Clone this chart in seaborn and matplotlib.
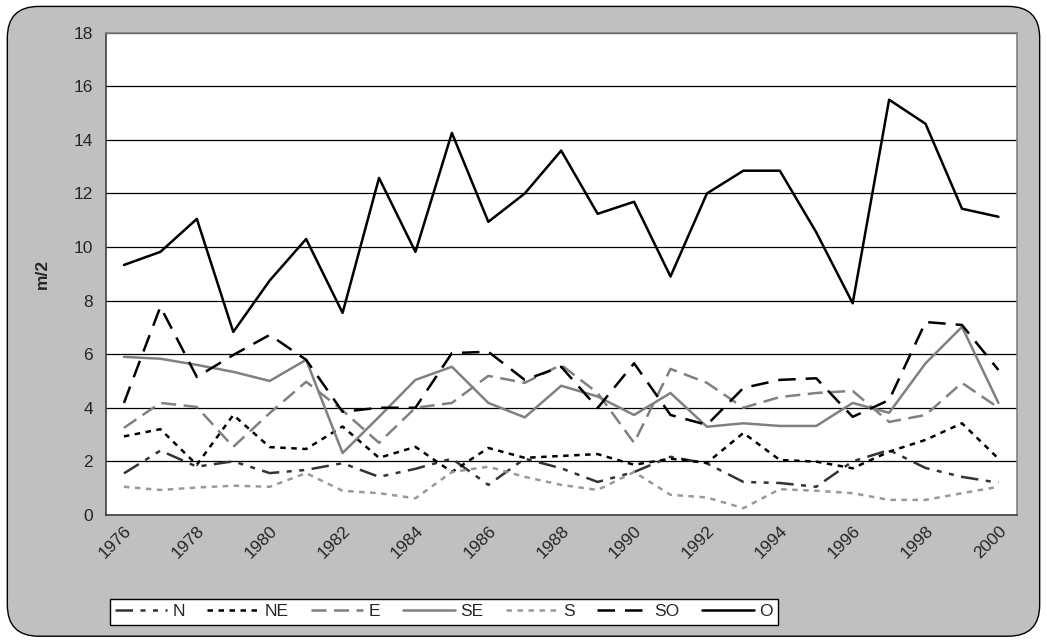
import numpy as np
import pandas as pd
import seaborn as sns
import matplotlib.pyplot as plt
from matplotlib.patches import FancyBboxPatch

# datos (m/2 por año y orientación)
anios = list(range(1976, 2001))
N = [1.55, 2.4, 1.8, 2.0, 1.56, 1.68, 1.93, 1.42, 1.72, 2.1, 1.12, 2.1, 1.74, 1.23, 1.6, 2.17,
     1.92, 1.23, 1.19, 1.05, 2.0, 2.42, 1.75, 1.42, 1.2]
NE = [2.93, 3.2, 1.87, 3.73, 2.53, 2.46, 3.3, 2.13, 2.54, 1.6, 2.5, 2.13, 2.2, 2.27, 1.87, 2.1,
      1.94, 3.06, 2.05, 1.99, 1.74, 2.36, 2.8, 3.42, 2.1]
E = [3.25, 4.18, 4.03, 2.54, 3.8, 4.97, 3.9, 2.69, 4.0, 4.18, 5.19, 4.93, 5.6, 4.55, 2.69, 5.45,
     4.93, 4.0, 4.4, 4.55, 4.63, 3.47, 3.73, 4.93, 4.0]
SE = [5.9, 5.83, 5.6, 5.34, 5.0, 5.79, 2.31, 3.66, 5.04, 5.53, 4.18, 3.64, 4.82, 4.42, 3.73, 4.55,
      3.29, 3.42, 3.32, 3.32, 4.18, 3.81, 5.66, 7.02, 4.18]
S = [1.05, 0.93, 1.02, 1.09, 1.05, 1.56, 0.9, 0.81, 0.62, 1.6, 1.8, 1.42, 1.12, 0.93, 1.6, 0.75,
     0.65, 0.25, 0.96, 0.9, 0.81, 0.56, 0.56, 0.81, 1.05]
SO = [4.18, 7.77, 5.15, 5.97, 6.72, 5.79, 3.85, 4.0, 4.0, 6.04, 6.09, 5.04, 5.53, 3.99, 5.66, 3.73,
      3.36, 4.74, 5.04, 5.1, 3.66, 4.29, 7.2, 7.09, 5.41]
O = [9.33, 9.82, 11.05, 6.83, 8.75, 10.3, 7.54, 12.58, 9.82, 14.26, 10.94, 12.0, 13.6, 11.24, 11.69, 8.9,
     12.0, 12.85, 12.85, 10.55, 7.9, 15.5, 14.6, 11.43, 11.13]

series = {'N': N, 'NE': NE, 'E': E, 'SE': SE, 'S': S, 'SO': SO, 'O': O}

# estilos de cada línea
estilos = {
    'N':  ('#333333', (0, (7, 3, 2, 3, 2, 3))),
    'NE': ('#000000', (0, (2.2, 2.2))),
    'E':  ('#808080', (0, (6, 3))),
    'SE': ('#808080', '-'),
    'S':  ('#999999', (0, (2.2, 2.2))),
    'SO': ('#000000', (0, (7, 4))),
    'O':  ('#000000', '-'),
}

df = pd.DataFrame(series)
df['pos'] = np.arange(len(anios))

sns.set_style('white')
plt.rcParams['font.family'] = ['Liberation Sans', 'DejaVu Sans']

fig = plt.figure(figsize=(10.47, 6.42), dpi=100)
fig.patch.set_facecolor('white')
fondo = FancyBboxPatch((0.007, 0.009), 0.986, 0.981, boxstyle='round,pad=0,rounding_size=0.03',
                       transform=fig.transFigure, facecolor='#C0C0C0', edgecolor='#000000',
                       linewidth=1.0, mutation_aspect=1047 / 642, zorder=-10)
fig.patches.append(fondo)

ax = fig.add_axes([0.101, 0.198, 0.870, 0.751])
ax.set_facecolor('white')

for nombre in series:
    color, ls = estilos[nombre]
    sns.lineplot(data=df, x='pos', y=nombre, ax=ax, color=color, linestyle=ls,
                 linewidth=1.8, label=nombre, legend=False)

ax.set_xlim(-0.5, len(anios) - 0.5)
ax.set_ylim(0, 18)
ax.set_yticks(range(0, 19, 2))
ax.yaxis.grid(True, color='black', linewidth=0.9)
ax.set_axisbelow(True)

ax.set_xticks(np.arange(0, len(anios), 2))
ax.set_xticklabels([str(a) for a in anios[::2]], rotation=45, ha='right', rotation_mode='anchor')
ax.set_xticks(np.arange(-0.5, len(anios), 1), minor=True)
ax.tick_params(axis='x', which='major', length=0, labelsize=12.5, pad=6)
ax.tick_params(axis='x', which='minor', length=5, width=1, color='#404040', direction='out')
ax.tick_params(axis='y', length=5, width=1, color='#404040', labelsize=12.5, pad=4)

ax.set_xlabel('')
ax.set_ylabel('m/2', fontsize=12.5, fontweight='bold', labelpad=17)

for lado in ['top', 'right']:
    ax.spines[lado].set_color('#808080')
    ax.spines[lado].set_linewidth(1.2)
for lado in ['left', 'bottom']:
    ax.spines[lado].set_color('#404040')
    ax.spines[lado].set_linewidth(1.2)

leg = fig.legend(*ax.get_legend_handles_labels(), loc='center', bbox_to_anchor=(0.424, 0.047),
                 ncol=7, frameon=True, fancybox=False, fontsize=12.5, handlelength=3.0,
                 handletextpad=0.3, columnspacing=1.3, borderpad=0.3)
leg.get_frame().set_edgecolor('black')
leg.get_frame().set_linewidth(1.0)
leg.get_frame().set_facecolor('white')
leg.get_frame().set_alpha(1)

fig.savefig('out.png', dpi=100, facecolor=fig.get_facecolor())
